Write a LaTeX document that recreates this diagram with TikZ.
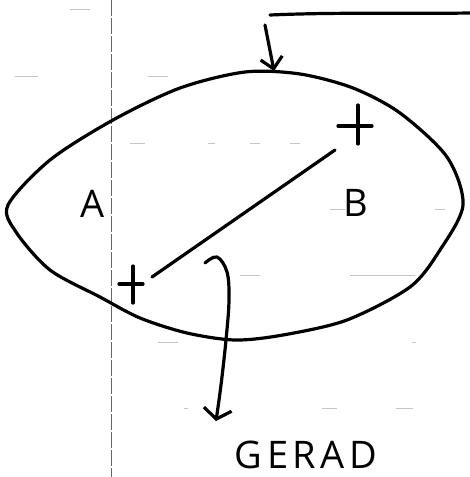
\documentclass[tikz,border=0pt]{standalone}
\usepackage{fontspec}
\setmainfont{Open Sans}
\usetikzlibrary{arrows.meta}
\begin{document}
\begin{tikzpicture}[x=1pt,y=-1pt,
  ink/.style={line width=3.2pt,line cap=round,line join=round,black},
  paper/.style={gray!45,line width=0.6pt},
  margin/.style={gray!80!black,line width=0.8pt,dash pattern=on 16pt off 2pt},
  lbl/.style={font=\fontsize{38}{40}\selectfont,inner sep=0pt},
  barb/.style={-{Straight Barb[length=10pt,width=28pt,line width=3.2pt]}}]
\useasboundingbox (0,0) rectangle (470,477);
% paper ruling
\draw[margin] (111,0) -- (111,477);
\foreach \y/\a/\b in {9/70/90, 76/15/38, 76/148/168, 143/130/145, 143/208/215, 143/250/260, 143/290/300,
  209/330/345, 209/435/445, 275/240/260, 275/350/415, 342/158/178, 342/412/416, 408/184/188, 408/322/337, 408/396/413}
  \draw[paper] (\a,\y) -- (\b,\y);
% outline
\draw[ink] plot[smooth cycle,tension=0.5] coordinates {
  (8,205) (50,160) (113,120) (180,88) (245,72) (300,74) (353,88)
  (400,113) (447,157) (463,205) (440,250) (410,287) (347,320)
  (283,335) (235,340) (187,333) (140,318) (100,297) (50,270) (16,232)};
% top pointer
\coordinate (t0) at (270,15);
\coordinate (t1) at (470,13);
\coordinate (tp) at (265,25);
\coordinate (top) at (274,71);
\draw[ink] (t0) .. controls (340,12) and (400,14) .. (t1);
\draw[ink,-{Straight Barb[length=11pt,width=22pt,line width=3.2pt]}] (tp) -- (top);
% crosses
\coordinate (c1) at (133,284);
\coordinate (c2) at (358,126);
\draw[ink] ([yshift=-19pt]c1) -- ([yshift=18pt]c1) ([xshift=-14pt]c1) -- ([xshift=10pt]c1);
\draw[ink] ([yshift=-18pt]c2) -- ([yshift=21pt]c2) ([xshift=-20pt]c2) -- ([xshift=14pt]c2);
% straight segment
\coordinate (s1) at (152,277);
\coordinate (s2) at (335,150);
\draw[ink] (s1) -- (s2);
% labels
\node[lbl] (A) at (93,204) {A};
\node[lbl] (B) at (356,203) {B};
\node[font=\fontsize{38}{40}\selectfont\addfontfeature{LetterSpace=12},inner sep=0pt,anchor=base] (gerad) at (306,468) {GERAD};
% label pointer
\coordinate (g0) at (205,263);
\coordinate (g1) at (216,421);
\draw[ink,barb] plot[smooth,tension=0.6] coordinates {(g0) (217,257) (227,272) (229,300) (226,340) (221,385) (g1)};
\end{tikzpicture}
\end{document}
